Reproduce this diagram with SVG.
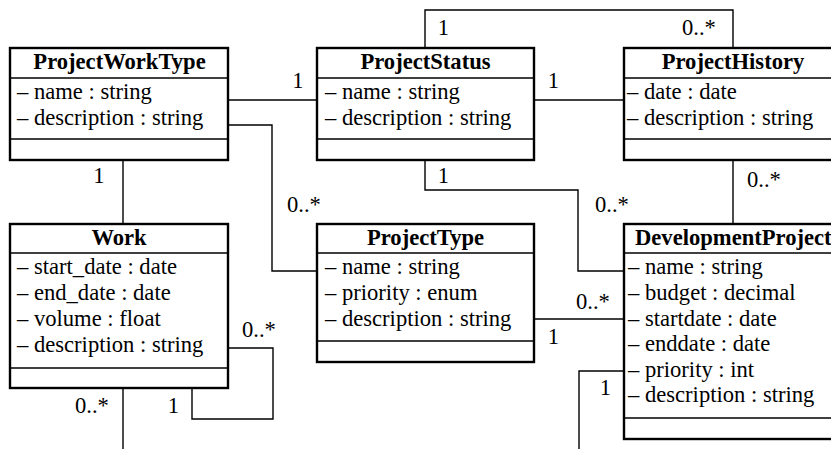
<svg xmlns="http://www.w3.org/2000/svg" width="831" height="449" viewBox="0 0 831 449" font-family="'Liberation Serif', 'DejaVu Serif', serif">
<style>
.box{fill:#fff;stroke:#000;stroke-width:2.4}
.div{stroke:#000;stroke-width:1.3}
.con{fill:none;stroke:#000;stroke-width:1.4}
text{font-family:'Liberation Serif','DejaVu Serif',serif;font-size:22.6px;fill:#000}
.t{font-weight:bold;text-anchor:middle}
.m{text-anchor:middle}
</style>
<rect width="831" height="449" fill="#fff"/>
<g id="connectors">
<path class="con" d="M228 100H317"/>
<path class="con" d="M534 100H624"/>
<path class="con" d="M425 48V10H733V48"/>
<path class="con" d="M733 160V224"/>
<path class="con" d="M425 160V190H578V271H624"/>
<path class="con" d="M228 125H272V271H317"/>
<path class="con" d="M534 319H624"/>
<path class="con" d="M624 371H579V449"/>
<path class="con" d="M123 160V224"/>
<path class="con" d="M228 348H273V419H192V388"/>
<path class="con" d="M123 388V449"/>
<text class="m" x="298" y="88">1</text>
<text class="m" x="553.5" y="88">1</text>
<text class="m" x="443.5" y="35">1</text>
<text x="682" y="35">0..*</text>
<text class="m" x="443.5" y="183">1</text>
<text x="747" y="187">0..*</text>
<text class="m" x="99" y="183">1</text>
<text x="287" y="212">0..*</text>
<text x="595" y="212">0..*</text>
<text x="576" y="309">0..*</text>
<text class="m" x="553.5" y="344">1</text>
<text class="m" x="605.5" y="395">1</text>
<text x="242" y="337">0..*</text>
<text class="m" x="173.5" y="413">1</text>
<text x="75" y="413">0..*</text>
</g>
<g id="ProjectWorkType">
<rect class="box" x="10" y="48" width="218" height="112"/>
<line class="div" x1="10" y1="78" x2="228" y2="78"/>
<line class="div" x1="10" y1="139" x2="228" y2="139"/>
<text class="t" x="119.5" y="69">ProjectWorkType</text>
<text x="17" y="99">– name : string</text>
<text x="17" y="125">– description : string</text>
</g>
<g id="ProjectStatus">
<rect class="box" x="317" y="48" width="217" height="112"/>
<line class="div" x1="317" y1="78" x2="534" y2="78"/>
<line class="div" x1="317" y1="139" x2="534" y2="139"/>
<text class="t" x="425.5" y="69">ProjectStatus</text>
<text x="325" y="99">– name : string</text>
<text x="325" y="125">– description : string</text>
</g>
<g id="ProjectHistory">
<rect class="box" x="624" y="48" width="218" height="112"/>
<line class="div" x1="624" y1="78" x2="842" y2="78"/>
<line class="div" x1="624" y1="139" x2="842" y2="139"/>
<text class="t" x="733" y="69">ProjectHistory</text>
<text x="627" y="99">– date : date</text>
<text x="627" y="125">– description : string</text>
</g>
<g id="Work">
<rect class="box" x="10" y="224" width="218" height="164"/>
<line class="div" x1="10" y1="253" x2="228" y2="253"/>
<line class="div" x1="10" y1="368" x2="228" y2="368"/>
<text class="t" x="119" y="245">Work</text>
<text x="17" y="274">– start_date : date</text>
<text x="17" y="300">– end_date : date</text>
<text x="17" y="326">– volume : float</text>
<text x="17" y="352">– description : string</text>
</g>
<g id="ProjectType">
<rect class="box" x="317" y="224" width="217" height="138"/>
<line class="div" x1="317" y1="253" x2="534" y2="253"/>
<line class="div" x1="317" y1="341" x2="534" y2="341"/>
<text class="t" x="425.5" y="245">ProjectType</text>
<text x="325" y="274">– name : string</text>
<text x="325" y="300">– priority : enum</text>
<text x="325" y="326">– description : string</text>
</g>
<g id="DevelopmentProject">
<rect class="box" x="624" y="224" width="218" height="215"/>
<line class="div" x1="624" y1="253" x2="842" y2="253"/>
<line class="div" x1="624" y1="418" x2="842" y2="418"/>
<text x="635" y="245" font-weight="bold">DevelopmentProject</text>
<text x="628" y="274">– name : string</text>
<text x="628" y="300">– budget : decimal</text>
<text x="628" y="325.5">– startdate : date</text>
<text x="628" y="351">– enddate : date</text>
<text x="628" y="376.5">– priority : int</text>
<text x="628" y="402">– description : string</text>
</g>
</svg>
